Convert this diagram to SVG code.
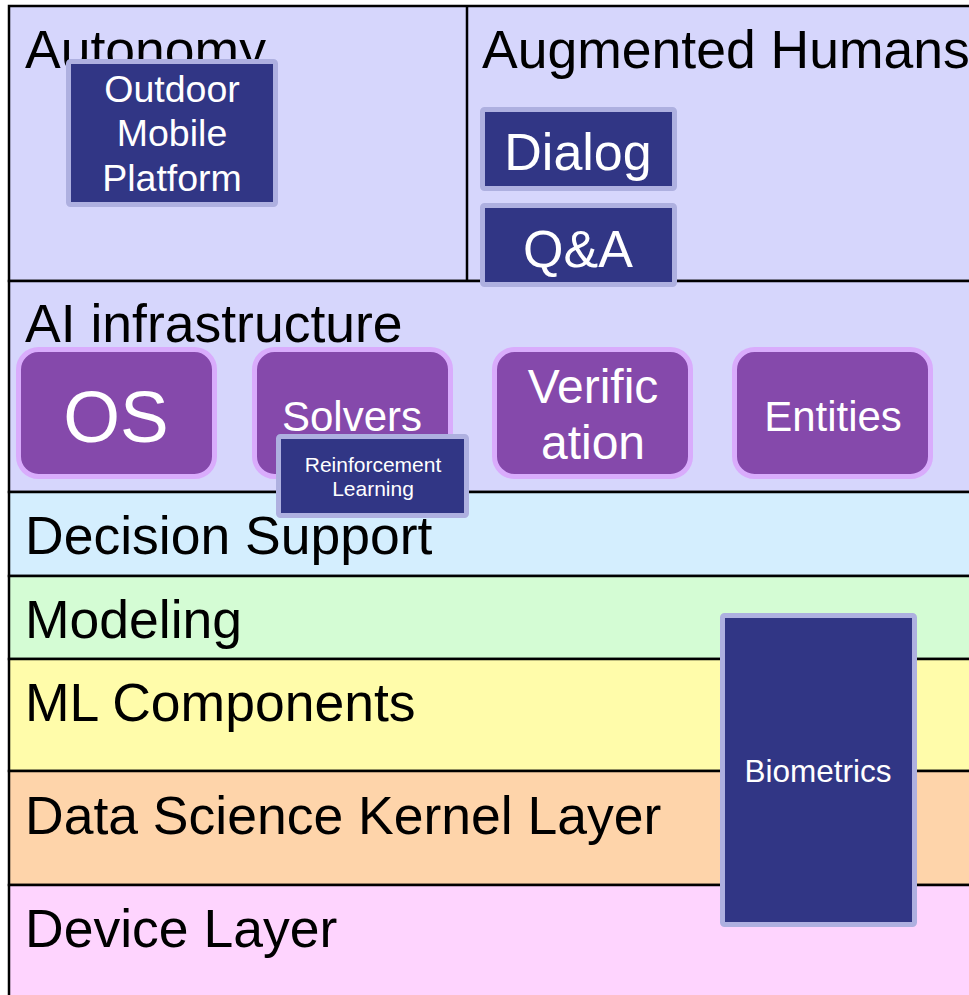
<svg xmlns="http://www.w3.org/2000/svg" width="969" height="995" viewBox="0 0 969 995">
<style>
.row{stroke:#000;stroke-width:2.5}
.lbl{font-family:"Liberation Sans",Arial,sans-serif;font-size:53.5px;fill:#000}
.blue{fill:#313685;stroke:#aeb0e0;stroke-width:5}
.purp{fill:#8549ab;stroke:#d9acfc;stroke-width:5}
.wt{font-family:"Liberation Sans",Arial,sans-serif;fill:#fff;text-anchor:middle}
</style>
<rect width="969" height="995" fill="#ffffff"/>
<g id="layers">
<rect class="row" x="9" y="6" width="980" height="275" fill="#d6d6fc"/>
<line x1="467" y1="6" x2="467" y2="281" stroke="#000" stroke-width="2.5"/>
<rect class="row" x="9" y="281" width="980" height="211" fill="#d6d6fc"/>
<rect class="row" x="9" y="492" width="980" height="84" fill="#d4eefe"/>
<rect class="row" x="9" y="576" width="980" height="83" fill="#d4fcd4"/>
<rect class="row" x="9" y="659" width="980" height="112" fill="#fffcaa"/>
<rect class="row" x="9" y="771" width="980" height="114" fill="#fed4aa"/>
<rect class="row" x="9" y="885" width="980" height="130" fill="#fed4fe"/>
<text class="lbl" x="25" y="68">Autonomy</text>
<text class="lbl" x="482" y="68">Augmented Humans</text>
<text class="lbl" x="25" y="342">AI infrastructure</text>
<text class="lbl" x="25" y="554">Decision Support</text>
<text class="lbl" x="25" y="638">Modeling</text>
<text class="lbl" x="25" y="721">ML Components</text>
<text class="lbl" x="25" y="834">Data Science Kernel Layer</text>
<text class="lbl" x="25" y="947">Device Layer</text>
</g>
<g id="connectors"/>
<g id="outdoor">
<rect class="blue" x="68.5" y="61.5" width="207" height="143" rx="2"/>
<text class="wt" font-size="37.5" x="172" y="102">Outdoor</text>
<text class="wt" font-size="37.5" x="172" y="146">Mobile</text>
<text class="wt" font-size="37.5" x="172" y="191">Platform</text>
</g>
<g id="dialog">
<rect class="blue" x="482.5" y="109.5" width="192" height="79" rx="2"/>
<text class="wt" font-size="52" x="578" y="170">Dialog</text>
</g>
<g id="qa">
<rect class="blue" x="482.5" y="205.5" width="192" height="79" rx="2"/>
<text class="wt" font-size="52" x="578" y="267">Q&amp;A</text>
</g>
<g id="os">
<rect class="purp" x="18.5" y="349.5" width="196" height="127" rx="20"/>
<text class="wt" font-size="73" x="116" y="442">OS</text>
</g>
<g id="solvers">
<rect class="purp" x="254.5" y="349.5" width="196" height="127" rx="20"/>
<text class="wt" font-size="42" x="352" y="431">Solvers</text>
</g>
<g id="verification">
<rect class="purp" x="494.5" y="349.5" width="196" height="127" rx="20"/>
<text class="wt" font-size="48" x="593" y="403">Verific</text>
<text class="wt" font-size="48" x="593" y="459">ation</text>
</g>
<g id="entities">
<rect class="purp" x="734.5" y="349.5" width="196" height="127" rx="20"/>
<text class="wt" font-size="42" x="833" y="431">Entities</text>
</g>
<g id="rl">
<rect class="blue" x="278.5" y="436.5" width="188" height="79" rx="2"/>
<text class="wt" font-size="21" x="373" y="472">Reinforcement</text>
<text class="wt" font-size="21" x="373" y="496">Learning</text>
</g>
<g id="biometrics">
<rect class="blue" x="722.5" y="615.5" width="192" height="309" rx="2"/>
<text class="wt" font-size="31.5" x="818" y="782">Biometrics</text>
</g>
</svg>
